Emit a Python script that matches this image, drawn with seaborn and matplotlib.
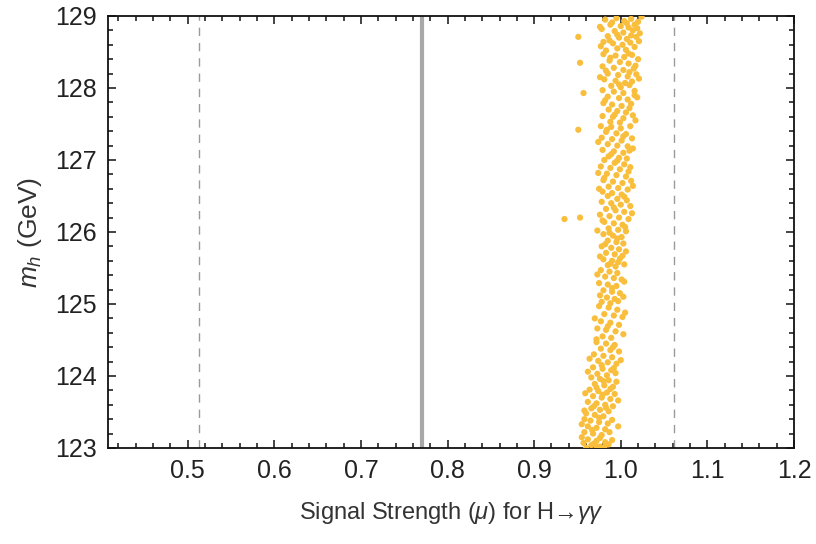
import matplotlib
matplotlib.use("Agg")
import matplotlib.pyplot as plt
import seaborn as sns
import numpy as np
import pandas as pd
from matplotlib.ticker import MultipleLocator, FixedLocator, FixedFormatter

# ---- data ----
mu_points = [
    # 128.5 - 129.0
    0.982, 0.995, 1.004, 1.012, 1.020, 0.988, 1.000, 1.009, 1.016, 0.978, 0.993, 1.003, 1.014, 1.022,
    0.985, 0.998, 1.007, 1.018, 0.980, 0.991, 1.002, 1.011, 0.996, 1.006, 1.016, 0.983, 0.951,
    # 128.0 - 128.5
    0.980, 0.994, 1.004, 1.013, 1.020, 0.987, 0.999, 1.009, 0.979, 0.992, 1.003, 1.015, 0.985, 0.997,
    1.008, 1.018, 0.981, 0.994, 1.005, 1.013, 0.989, 1.000, 1.010, 0.953,
    # 127.5 - 128.0
    0.979, 0.992, 1.003, 1.016, 0.985, 0.998, 1.008, 1.019, 0.980, 0.990, 1.001, 1.012, 0.986, 0.996,
    1.006, 0.979, 0.991, 1.003, 1.014, 0.988, 0.999, 0.957,
    # 127.0 - 127.5
    0.977, 0.989, 1.000, 1.011, 0.983, 0.995, 1.006, 0.978, 0.990, 1.001, 1.013, 0.985, 0.996, 1.008,
    0.979, 0.992, 1.003, 1.010, 0.986, 0.998, 1.007, 0.981, 0.951,
    # 126.5 - 127.0
    0.993, 1.004, 0.977, 0.988, 0.999, 1.011, 0.974, 0.984, 0.995, 1.006, 0.980, 0.991, 1.002, 1.012,
    0.986, 0.997, 1.008, 0.979, 0.990, 1.001, 0.985,
    # 126.0 - 126.5
    0.996, 1.007, 0.978, 0.989, 1.000, 1.011, 0.983, 0.994, 1.004, 0.976, 0.987, 0.998, 1.009, 0.981,
    0.992, 1.002, 0.986, 0.997, 1.006, 0.935, 0.953,
    # 125.5 - 126.0
    0.980, 0.991, 1.001, 0.985, 0.995, 1.003, 0.978, 0.989, 0.998, 0.983, 0.993, 1.002, 0.980, 0.990,
    0.997, 0.985, 0.994, 1.004,
    # 125.0 - 125.5
    0.977, 0.987, 0.996, 0.982, 0.992, 1.001, 0.975, 0.985, 0.995, 0.980, 0.990, 0.999, 0.984, 0.993,
    1.003, 0.978, 0.988,
    # 124.5 - 125.0
    0.975, 0.986, 0.996, 0.981, 0.992, 1.002, 0.977, 0.988, 0.998, 0.973, 0.983, 0.994, 0.979, 0.989,
    # 124.0 - 124.5
    0.972, 0.983, 0.993, 0.977, 0.988, 0.998, 0.969, 0.980, 0.990, 0.974, 0.985, 0.995, 0.968, 0.979,
    0.989, 0.973, 0.984, 0.994,
    # 123.5 - 124.0
    0.966, 0.976, 0.986, 0.995, 0.970, 0.981, 0.991, 0.964, 0.974, 0.984, 0.993, 0.968, 0.978, 0.988,
    0.962, 0.972, 0.982, 0.991, 0.966, 0.976, 0.986,
    # 123.0 - 123.5
    0.960, 0.970, 0.980, 0.958, 0.965, 0.975, 0.985, 0.962, 0.972, 0.982, 0.997, 0.958, 0.968, 0.978,
    0.962, 0.972, 0.982, 0.966, 0.976, 0.986, 0.960,
    # additional, irregular points across the band
    1.024, 0.990, 1.007, 0.976, 1.019, 0.996, 1.012, 0.987, 1.021, 0.977, 1.009, 0.988, 1.017, 0.983,
    1.010, 0.976, 1.021, 0.998, 1.016, 0.982, 1.010, 0.993, 1.017, 0.984, 1.003, 0.974, 1.014, 0.989,
    0.996, 1.009, 0.981, 1.014, 0.975, 1.004, 0.992, 1.013, 0.979, 1.005, 0.973, 0.987, 0.996, 0.982,
    1.006, 0.976, 0.999, 0.988, 0.973, 1.004, 0.990, 0.976, 0.997, 1.005, 0.970, 0.985, 1.003, 0.972,
    0.991, 0.964, 1.000, 0.978, 0.992, 0.962, 0.980, 0.972, 0.988, 0.959, 0.979, 0.997, 0.969, 0.983,
    0.958, 0.975, 0.990, 0.955, 0.967, 0.987, 0.955, 0.976, 0.990, 0.957, 0.969, 0.981, 0.972,
]
mh_points = [
    128.95, 128.97, 128.93, 128.96, 128.92, 128.88, 128.86, 128.84, 128.88, 128.82, 128.79, 128.77, 128.80, 128.76,
    128.72, 128.70, 128.68, 128.71, 128.64, 128.62, 128.60, 128.63, 128.55, 128.53, 128.57, 128.52, 128.71,
    128.47, 128.45, 128.43, 128.46, 128.40, 128.38, 128.36, 128.34, 128.30, 128.28, 128.25, 128.27, 128.20, 128.18,
    128.16, 128.19, 128.12, 128.10, 128.07, 128.09, 128.03, 128.01, 128.04, 128.35,
    127.97, 127.95, 127.93, 127.96, 127.88, 127.86, 127.84, 127.87, 127.79, 127.77, 127.75, 127.78, 127.70, 127.68,
    127.66, 127.61, 127.60, 127.58, 127.62, 127.53, 127.52, 127.93,
    127.47, 127.46, 127.44, 127.47, 127.39, 127.37, 127.36, 127.31, 127.29, 127.27, 127.30, 127.22, 127.20, 127.19,
    127.14, 127.12, 127.10, 127.13, 127.05, 127.03, 127.02, 127.00, 127.42,
    126.96, 126.94, 126.91, 126.89, 126.87, 126.90, 126.82, 126.81, 126.79, 126.77, 126.72, 126.70, 126.68, 126.71,
    126.63, 126.61, 126.59, 126.56, 126.54, 126.52, 126.50,
    126.46, 126.44, 126.42, 126.40, 126.38, 126.36, 126.32, 126.30, 126.28, 126.24, 126.22, 126.20, 126.18, 126.14,
    126.12, 126.10, 126.05, 126.03, 126.01, 126.18, 126.20,
    125.97, 125.95, 125.93, 125.88, 125.86, 125.84, 125.80, 125.78, 125.76, 125.71, 125.69, 125.67, 125.62, 125.60,
    125.58, 125.54, 125.52, 125.55,
    125.47, 125.45, 125.43, 125.38, 125.36, 125.34, 125.29, 125.27, 125.25, 125.19, 125.17, 125.15, 125.09, 125.07,
    125.10, 125.03, 125.01,
    124.97, 124.95, 124.92, 124.86, 124.84, 124.82, 124.76, 124.74, 124.71, 124.66, 124.64, 124.62, 124.55, 124.53,
    124.47, 124.45, 124.43, 124.38, 124.36, 124.34, 124.30, 124.28, 124.26, 124.21, 124.19, 124.17, 124.12, 124.10,
    124.08, 124.03, 124.01, 124.04,
    123.98, 123.96, 123.94, 123.92, 123.89, 123.87, 123.85, 123.81, 123.79, 123.77, 123.75, 123.72, 123.70, 123.68,
    123.64, 123.62, 123.60, 123.58, 123.55, 123.53, 123.51,
    123.48, 123.46, 123.44, 123.40, 123.38, 123.36, 123.34, 123.30, 123.28, 123.26, 123.30, 123.22, 123.20, 123.18,
    123.12, 123.10, 123.08, 123.04, 123.02, 123.05, 123.00,
    # additional
    128.99, 128.91, 128.90, 128.85, 128.83, 128.74, 128.73, 128.66, 128.65, 128.58, 128.48, 128.42, 128.31, 128.24,
    128.22, 128.15, 128.13, 128.05, 127.90, 127.83, 127.72, 127.63, 127.55, 127.42, 127.33, 127.25, 127.16, 127.08,
    126.99, 126.84, 126.75, 126.64, 126.60, 126.49, 126.34, 126.26, 126.16, 126.07, 126.02, 125.99, 125.91, 125.83,
    125.73, 125.66, 125.63, 125.56, 125.41, 125.31, 125.22, 125.12, 125.04, 124.88, 124.80, 124.69, 124.58, 124.51,
    124.40, 124.24, 124.22, 124.15, 124.11, 124.06, 123.93, 123.84, 123.82, 123.76, 123.74, 123.66, 123.58, 123.56,
    123.52, 123.42, 123.39, 123.33, 123.25, 123.22, 123.15, 123.14, 123.11, 123.07, 123.06, 123.01, 123.02,
]
mu_central = 0.77
mu_band = [0.513, 1.061]
x_ticks = [0.5, 0.6, 0.7, 0.8, 0.9, 1.0, 1.1, 1.2]
x_tick_labels = ["0.5", "0.6", "0.7", "0.8", "0.9", "1.0", "1.1", "1.2"]
y_ticks = [123, 124, 125, 126, 127, 128, 129]
y_tick_labels = ["123", "124", "125", "126", "127", "128", "129"]

df = pd.DataFrame({"mu": mu_points, "mh": mh_points})

sns.set_style("ticks")
plt.rcParams["font.family"] = ["Liberation Sans", "DejaVu Sans"]
plt.rcParams["mathtext.fontset"] = "custom"
plt.rcParams["mathtext.rm"] = "Liberation Sans"
plt.rcParams["mathtext.it"] = "Liberation Sans:italic"

fig = plt.figure(figsize=(8.16, 5.44), dpi=100)
ax = fig.add_axes([0.1324, 0.1765, 0.8406, 0.7941])

ax.axvline(mu_central, color="#a8a8a8", lw=3.0, zorder=1)
for v in mu_band:
    ax.axvline(v, color="#9a9a9a", lw=1.0, ls=(0, (6, 5)), zorder=1)

sns.scatterplot(data=df, x="mu", y="mh", ax=ax, color="#f8be3c", s=20,
                linewidth=0, edgecolor="none", zorder=3, legend=False)

ax.set_xlim(0.408, 1.2)
ax.set_ylim(123, 129)
ax.xaxis.set_major_locator(FixedLocator(x_ticks))
ax.xaxis.set_major_formatter(FixedFormatter(x_tick_labels))
ax.yaxis.set_major_locator(FixedLocator(y_ticks))
ax.yaxis.set_major_formatter(FixedFormatter(y_tick_labels))
ax.xaxis.set_minor_locator(MultipleLocator(0.02))
ax.yaxis.set_minor_locator(MultipleLocator(0.2))

ax.tick_params(which="both", direction="in", top=True, right=True,
               width=1.1, colors="#111111", labelsize=18, labelcolor="#222222")
ax.tick_params(which="major", length=6, pad=8)
ax.tick_params(which="minor", length=3.5)
for sp in ax.spines.values():
    sp.set_linewidth(1.3)
    sp.set_color("#111111")
    sp.set_visible(True)

ax.set_xlabel("Signal Strength ($\\mu$) for H\u2192$\\gamma\\gamma$", fontsize=17,
              color="#333333", labelpad=12)
ax.set_ylabel(r"$m_h$ (GeV)", fontsize=19, color="#333333", labelpad=8)

fig.savefig("out.png", dpi=100)
